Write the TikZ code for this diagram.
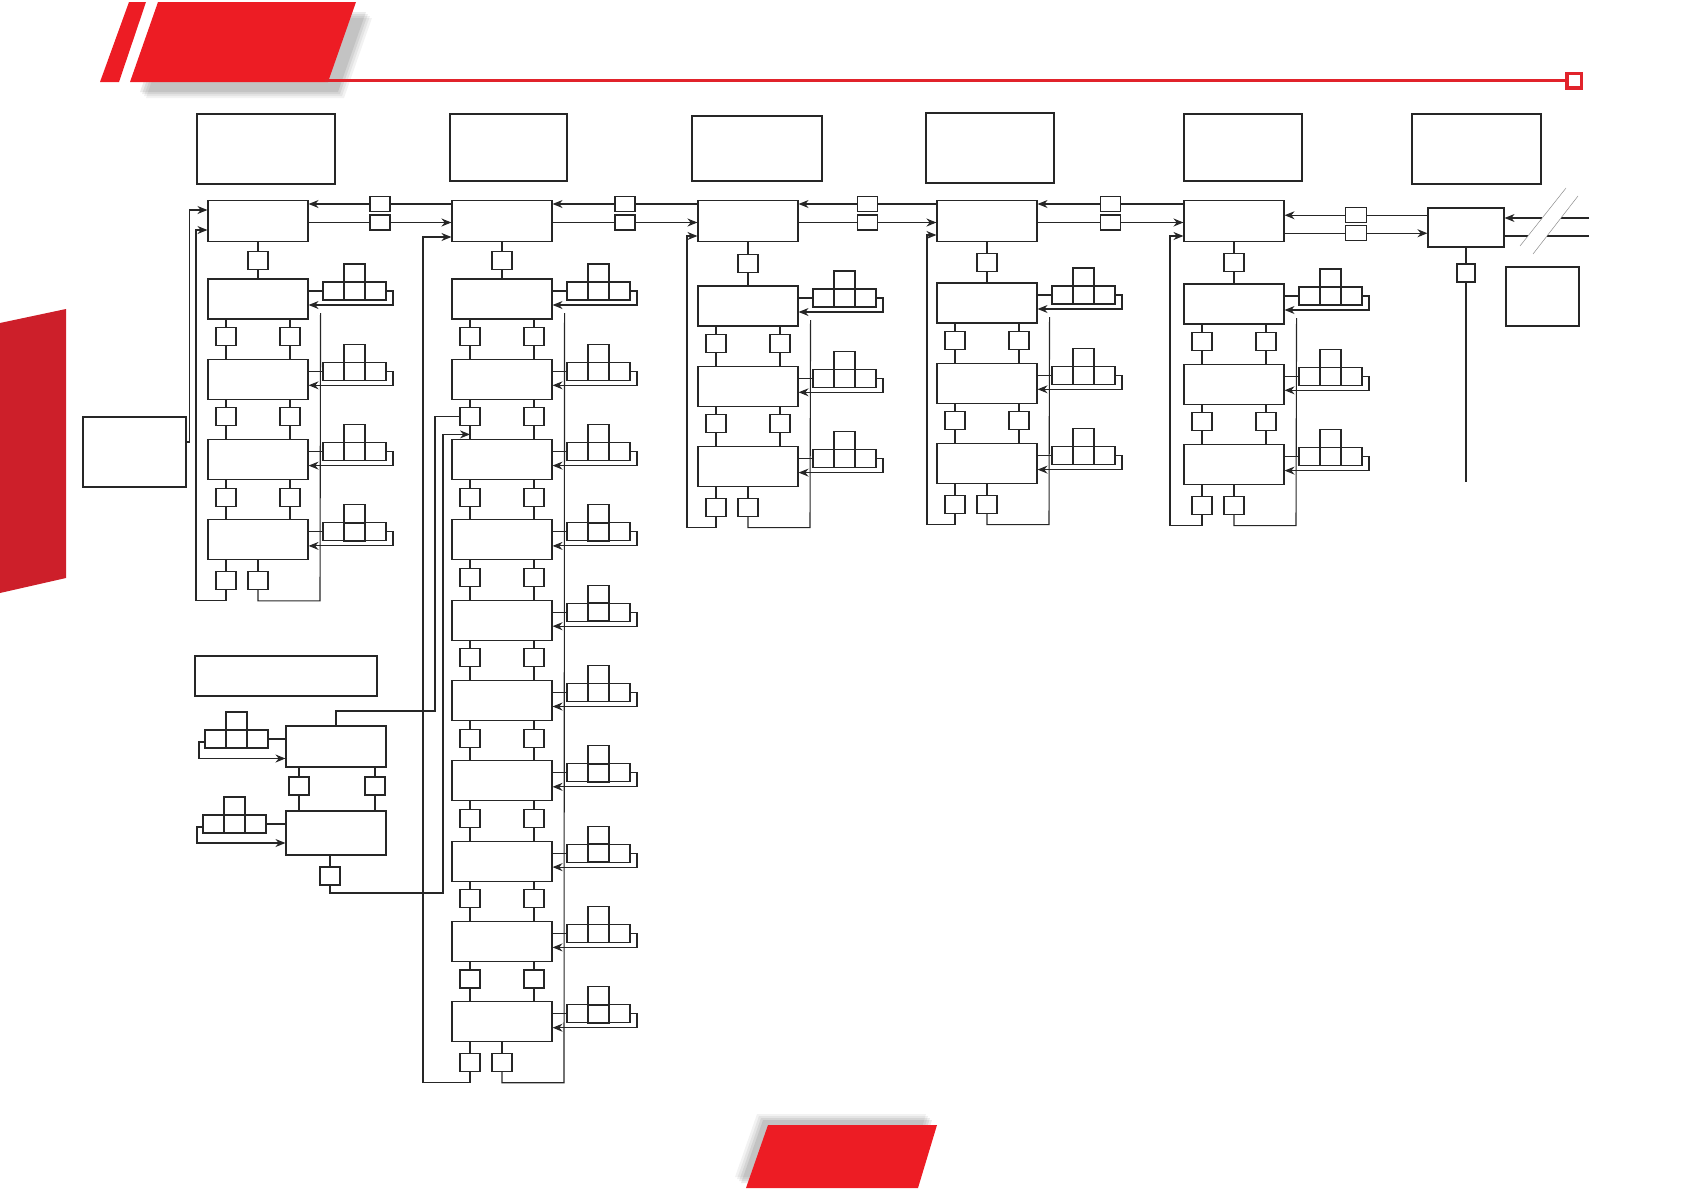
\documentclass[tikz,border=0pt]{standalone}
\usetikzlibrary{arrows.meta,positioning,calc}

\definecolor{headred}{HTML}{ED1C24}
\definecolor{bandred}{HTML}{CD1F2A}
\definecolor{rulered}{HTML}{E1232B}

\tikzset{
  menubox/.style={draw=black!85, line width=1.1pt, minimum width=100pt, minimum height=40pt, inner sep=0pt},
  framebox/.style={draw=black!85, line width=1.1pt, inner sep=0pt},
  keybox/.style={draw=black!85, line width=1.1pt, minimum width=20pt, minimum height=18pt, inner sep=0pt},
  cellbox/.style={draw=black!85, line width=1.1pt, minimum width=21pt, minimum height=18pt, inner sep=0pt, outer sep=0pt},
  link/.style={draw=black!85, line width=1.1pt},
  flow/.style={link, -{Stealth[length=10pt,width=8pt]}},
  cut/.style={draw=black!45, line width=0.5pt},
}

\begin{document}
\begin{tikzpicture}[x=1pt, y=-1pt]
\useasboundingbox (0,0) rectangle (1684,1191);

% header band and rule
\foreach \off/\op in {16/0.05,14/0.06,12/0.07,10/0.08}
  \fill[black, opacity=\op, shift={(\off,\off)}] (158,2) -- (356,2) -- (328,82) -- (130,82) -- cycle;
\fill[headred] (158,2) -- (356,2) -- (328,82) -- (130,82) -- cycle;
\fill[headred] (129,2) -- (146,2) -- (119,82) -- (100,82) -- cycle;
\draw[rulered, line width=3.4pt] (325,80.5) -- (1566,80.5);
\draw[rulered, line width=3.6pt] (1567,73.5) rectangle (1581.5,88);

% side tab and page tab
\fill[bandred] (0,323) -- (66,309) -- (66,578) -- (0,593) -- cycle;
\foreach \off/\op in {11/0.05,9/0.06,7/0.07,5/0.08}
  \fill[black, opacity=\op, shift={(-\off,-\off)}] (768,1125) -- (937,1125) -- (918,1188) -- (746,1188) -- cycle;
\fill[headred] (768,1125) -- (937,1125) -- (918,1188) -- (746,1188) -- cycle;

% column headers
\node[framebox, minimum width=138pt, minimum height=70pt] (t1) at (266,149) {};
\node[framebox, minimum width=117pt, minimum height=67pt] (t2) at (508.5,147.5) {};
\node[framebox, minimum width=130pt, minimum height=65pt] (t3) at (757,148.5) {};
\node[framebox, minimum width=128pt, minimum height=70pt] (t4) at (990,148) {};
\node[framebox, minimum width=118pt, minimum height=67pt] (t5) at (1243,147.5) {};
\node[framebox, minimum width=129pt, minimum height=70pt] (t6) at (1476.5,149) {};

% menu columns
\foreach \col/\xl/\ty/\n/\lx/\ay in {1/208/279/4/196/9, 2/452/279/10/423/16, 3/698/286/3/687/15, 4/937/283/3/927/14, 5/1184/284/3/1170/15}{
  \node[menubox, minimum height=41pt] (m\col) at (\xl+50,221) {};
  \foreach \row in {1,...,\n}{
    \pgfmathsetmacro\sy{\ty+20+(\row-1)*80.3}
    \node[menubox] (s\col-\row) at (\xl+50,\sy) {};
    \node[cellbox] (a\col-\row) at (\xl+125.5,\sy-8) {};
    \node[cellbox, line width=1.6pt, right=0pt of a\col-\row] (b\col-\row) {};
    \node[cellbox, right=0pt of b\col-\row] (e\col-\row) {};
    \node[cellbox, above=0pt of b\col-\row] (u\col-\row) {};
    \draw[link] (s\col-\row.east |- a\col-\row.west) -- (a\col-\row.west);
    \draw[flow] (e\col-\row.east) -- ++(7,0) |- ($(s\col-\row.east)+(0,6)$);
  }
  \node[keybox] (dk\col) at ($(m\col.south)!0.5!(s\col-1.north)$) {};
  \draw[link] (m\col.south) -- (dk\col.north) (dk\col.south) -- (s\col-1.north);
  \foreach \row in {2,...,\n}{
    \pgfmathtruncatemacro\prv{\row-1}
    \node[keybox] (kl\col-\row) at ($(s\col-\prv.south)+(-32,17)$) {};
    \node[keybox] (kr\col-\row) at ($(s\col-\prv.south)+(32,17)$) {};
    \draw[link] (kl\col-\row.north) -- (kl\col-\row.north |- s\col-\prv.south)
                (kl\col-\row.south) -- (kl\col-\row.south |- s\col-\row.north);
    \draw[link] (kr\col-\row.north) -- (kr\col-\row.north |- s\col-\prv.south)
                (kr\col-\row.south) -- (kr\col-\row.south |- s\col-\row.north);
  }
  % exit keys and return lines
  \pgfmathsetmacro\yb{\ty+40+(\n-1)*80.3}
  \node[keybox] (bl\col) at ($(s\col-\n.south)+(-32,20)$) {};
  \node[keybox] (br\col) at ($(s\col-\n.south)+(0,20)$) {};
  \draw[link] (bl\col.north) -- (bl\col.north |- s\col-\n.south);
  \draw[link] (br\col.north) -- (br\col.north |- s\col-\n.south);
  \coordinate (lp\col) at (\lx,\yb+41);
  \coordinate (rp\col) at (\xl+112,\yb+41);
  \coordinate (rt\col) at ($(s\col-1.east)+(12,14)$);
  \draw[flow] (bl\col.south) |- (lp\col) |- ($(m\col.west)+(0,\ay)$);
  \draw[link] (br\col.south) |- (rp\col) -- (rt\col);
}

% links between columns
\foreach \col/\nxt in {1/2,2/3,3/4,4/5}{
  \node[keybox, minimum height=15pt] (ku\col) at ($(m\col.east)!0.5!(m\nxt.west)+(0,-17)$) {};
  \node[keybox, minimum height=15pt] (kd\col) at ($(m\col.east)!0.5!(m\nxt.west)+(0,1.5)$) {};
  \draw[link] (m\nxt.west |- ku\col) -- (ku\col.east);
  \draw[flow] (ku\col.west) -- (m\col.east |- ku\col);
  \draw[link] (m\col.east |- kd\col) -- (kd\col.west);
  \draw[flow] (kd\col.east) -- (m\nxt.west |- kd\col);
}

% entry box of column 1
\node[framebox, minimum width=103pt, minimum height=70pt] (x1) at (134.5,452) {};
\draw[flow] ([yshift=10pt]x1.east) -- ++(3,0) |- ([yshift=11pt]m1.west);

% last column
\node[framebox, minimum width=76pt, minimum height=39pt] (m6) at (1466,227.5) {};
\node[keybox, minimum width=21pt, minimum height=15pt] (ku5) at ($(m5.east)!0.5!(m6.west)+(0,-9)$) {};
\node[keybox, minimum width=21pt, minimum height=15pt] (kd5) at ($(m5.east)!0.5!(m6.west)+(0,9)$) {};
\draw[link] (m6.west |- ku5) -- (ku5.east);
\draw[flow] (ku5.west) -- (m5.east |- ku5);
\draw[link] (m5.east |- kd5) -- (kd5.west);
\draw[flow] (kd5.east) -- (m6.west |- kd5);
\coordinate (c1) at (1589,218); \coordinate (c2) at (1561,218); \coordinate (c3) at (1542,218);
\coordinate (c4) at (1528,236); \coordinate (c5) at (1547,236); \coordinate (c6) at (1589,236);
\draw[link] (c1) -- (c2);
\draw[flow] (c3) -- (m6.east |- c3);
\draw[link] (m6.east |- c4) -- (c4);
\draw[link] (c5) -- (c6);
\draw[cut] (1566,188) -- (1520,246);
\draw[cut] (1578,196) -- (1533,254);
\node[keybox, minimum width=18pt] (dk6) at (1466,273) {};
\coordinate (e6) at (1466,482);
\draw[link] (m6.south) -- (dk6.north) (dk6.south) -- (e6);
\node[framebox, minimum width=73pt, minimum height=59pt] (x6) at (1542.5,296.5) {};

% lower left sub-menu
\node[framebox, minimum width=182pt, minimum height=40pt] (nb) at (286,676) {};
\node[menubox, minimum height=41pt] (p1) at (336,746.5) {};
\node[menubox, minimum height=44pt] (p2) at (336,833) {};
\node[keybox] (pl) at (299,786) {};
\node[keybox] (pr) at (375,786) {};
\draw[link] (pl.north) -- (pl.north |- p1.south) (pl.south) -- (pl.south |- p2.north);
\draw[link] (pr.north) -- (pr.north |- p1.south) (pr.south) -- (pr.south |- p2.north);

\node[cellbox] (pa1) at (215.5,739) {};
\node[cellbox, line width=1.6pt, right=0pt of pa1] (pb1) {};
\node[cellbox, right=0pt of pb1] (pe1) {};
\node[cellbox, above=0pt of pb1] (pu1) {};
\draw[link] (pe1.east) -- (p1.west |- pe1.east);
\draw[flow] ([yshift=-3pt]pa1.west) -- ++(-6,0) |- ([yshift=-12pt]p1.west);

\node[cellbox] (pa2) at (213.5,824) {};
\node[cellbox, line width=1.6pt, right=0pt of pa2] (pb2) {};
\node[cellbox, right=0pt of pb2] (pe2) {};
\node[cellbox, above=0pt of pb2] (pu2) {};
\draw[link] (pe2.east) -- (p2.west |- pe2.east);
\draw[flow] ([yshift=-3pt]pa2.west) -- ++(-6,0) |- ([yshift=-10pt]p2.west);

\coordinate (j1) at (435,711);
\draw[link] (p1.north) |- (j1) |- (kl2-3.west);
\node[keybox] (pk) at (330,876) {};
\draw[link] (pk.north) -- (pk.north |- p2.south);
\coordinate (j2) at (443,893);
\coordinate (j3) at ($(kl2-3.south)+(0,8)$);
\draw[flow] (pk.south) |- (j2) |- (j3);
\end{tikzpicture}
\end{document}
